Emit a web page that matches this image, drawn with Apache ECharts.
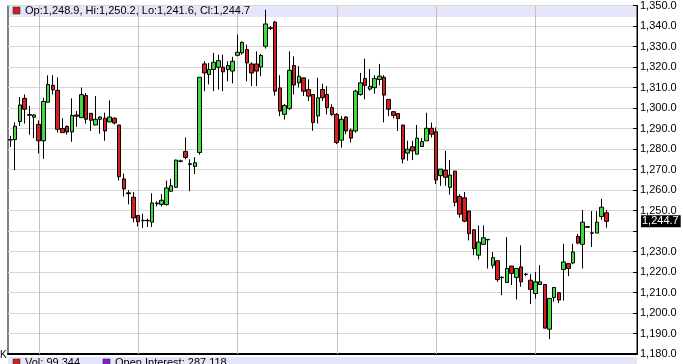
<!DOCTYPE html>
<html><head><meta charset="utf-8">
<script src="https://cdn.jsdelivr.net/npm/echarts/dist/echarts.min.js"></script>
<style>html,body{margin:0;padding:0;background:#fff;overflow:hidden}#c{width:683px;height:364px}</style>
</head><body><div id="c"></div>
<script>
const opens = [
1284.6,1284.6,1293.4,1304.7,1296.8,1295.5,1292.0,1284.0,1302.8,1311.1,
1308.6,1290.0,1291.0,1288.3,1296.6,1295.3,1306.1,1297.4,1291.7,1294.5,
1295.0,1293.2,1295.0,1291.7,1265.4,1258.6,1256.5,1247.6,1245.2,1245.0,
1244.3,1253.6,1253.0,1252.9,1259.4,1261.3,1274.2,1278.8,1272.8,1271.5,
1278.3,1321.5,1316.3,1318.8,1319.9,1319.9,1318.7,1318.0,1325.7,1326.9,
1328.5,1321.5,1321.5,1320.0,1330.1,1339.1,1341.9,1309.8,1296.9,1299.8,
1320.7,1312.3,1314.7,1309.0,1306.6,1296.1,1309.0,1306.6,1300.2,1296.9,
1284.3,1295.6,1289.2,1288.8,1306.6,1314.4,1309.2,1309.9,1313.9,1315.0,
1304.2,1298.2,1297.3,1291.7,1278.0,1281.1,1277.5,1281.2,1284.0,1290.1,
1288.4,1267.0,1269.7,1261.3,1269.2,1256.9,1256.2,1249.8,1240.6,1228.2,
1233.5,1235.9,1223.3,1225.5,1217.4,1214.9,1222.9,1217.3,1222.5,1219.0,
1216.0,1209.5,1213.9,1213.9,1192.1,1207.6,1209.9,1221.2,1224.1,1224.4,
1237.4,1233.5,1242.1,1239.1,1239.0,1247.1,1248.9];
const closes = [
1284.4,1291.1,1301.5,1299.4,1296.5,1296.6,1284.0,1303.2,1311.5,1308.9,
1289.6,1288.0,1288.3,1296.4,1296.0,1306.5,1294.5,1294.0,1294.5,1295.6,
1288.8,1295.6,1292.7,1266.5,1260.5,1258.2,1246.4,1244.5,1245.0,1245.2,
1253.7,1253.3,1255.0,1261.0,1262.1,1274.6,1274.0,1275.9,1272.5,1273.3,
1315.0,1317.1,1318.8,1322.3,1323.1,1317.6,1320.7,1322.8,1327.2,1332.0,
1322.0,1317.1,1318.0,1325.6,1341.0,1338.8,1308.2,1298.5,1301.2,1318.4,
1311.2,1315.5,1308.2,1305.8,1292.9,1305.0,1305.0,1300.2,1296.9,1283.2,
1294.5,1288.8,1285.3,1308.2,1312.3,1311.0,1310.5,1314.4,1315.5,1306.3,
1299.4,1296.4,1294.8,1275.1,1279.9,1279.1,1285.3,1283.6,1290.1,1287.2,
1264.9,1270.2,1266.2,1267.3,1254.0,1248.2,1244.8,1238.7,1231.4,1234.6,
1236.7,1235.7,1227.0,1216.3,1217.2,1221.7,1219.3,1221.7,1215.2,1218.8,
1211.5,1215.2,1215.2,1192.6,1207.1,1212.5,1206.3,1224.9,1221.7,1229.8,
1234.1,1244.3,1241.8,1238.9,1244.3,1251.6,1244.7];
const lows = [
1281.0,1269.7,1291.3,1292.4,1287.0,1285.3,1277.8,1275.2,1302.8,1306.6,
1288.0,1288.0,1287.0,1283.5,1290.8,1295.3,1292.4,1288.8,1291.7,1287.5,
1284.0,1293.2,1292.0,1264.6,1256.8,1253.0,1244.3,1242.2,1241.4,1242.0,
1241.9,1252.0,1252.0,1252.5,1259.0,1261.0,1273.5,1275.0,1259.4,1267.8,
1277.2,1308.2,1311.5,1308.2,1309.0,1308.2,1313.0,1312.0,1325.2,1326.0,
1313.0,1310.7,1310.7,1315.5,1329.0,1338.0,1306.0,1296.0,1294.4,1299.0,
1306.6,1310.0,1305.8,1303.4,1288.9,1292.4,1303.4,1296.9,1296.1,1282.4,
1280.7,1287.2,1283.2,1288.0,1306.0,1304.2,1308.5,1307.0,1311.0,1293.0,
1296.0,1295.0,1288.8,1273.0,1274.3,1274.6,1277.5,1281.2,1284.0,1285.6,
1262.9,1262.0,1262.1,1257.7,1252.0,1246.5,1244.3,1235.4,1228.2,1226.1,
1233.5,1221.7,1221.7,1215.2,1208.7,1214.9,1213.6,1206.6,1212.8,1218.0,
1204.4,1207.0,1213.9,1192.6,1187.2,1205.5,1204.8,1206.0,1218.0,1223.8,
1233.5,1221.7,1241.5,1232.2,1239.0,1245.5,1241.6];
const highs = [
1286.4,1293.0,1305.3,1306.6,1301.0,1297.0,1294.0,1305.0,1315.9,1316.0,
1315.0,1295.0,1291.5,1304.7,1298.5,1310.0,1307.3,1297.4,1305.8,1296.0,
1297.7,1303.7,1295.5,1291.7,1268.0,1260.0,1259.0,1247.6,1248.4,1246.0,
1258.4,1254.5,1258.0,1264.6,1265.5,1274.8,1274.8,1285.6,1275.0,1276.0,
1315.0,1322.8,1322.0,1326.9,1326.0,1326.0,1322.8,1325.0,1335.8,1332.5,
1330.9,1322.3,1327.6,1326.4,1347.9,1340.0,1342.5,1316.0,1302.0,1327.6,
1325.2,1320.4,1314.7,1314.0,1306.6,1314.7,1311.8,1310.7,1301.8,1297.5,
1296.0,1296.1,1290.0,1309.0,1317.1,1324.1,1319.0,1316.0,1321.5,1316.0,
1304.2,1298.5,1297.3,1291.7,1284.0,1284.0,1291.7,1285.3,1297.7,1292.9,
1290.5,1270.2,1279.1,1274.6,1269.4,1258.0,1259.0,1249.8,1240.6,1242.7,
1242.7,1236.0,1229.8,1225.5,1218.0,1237.0,1222.9,1221.7,1233.0,1219.5,
1219.0,1220.0,1223.3,1213.9,1207.1,1212.5,1209.9,1233.8,1224.1,1233.8,
1238.5,1250.3,1242.5,1249.7,1249.7,1255.7,1250.2];
const volume = 99344;
const openInterest = 287118;
const monthStarts = [6, 27, 48, 69, 90, 111];
const slotCount = 133;
const yMin = 1180, yMax = 1350, yStep = 10;

const categories = Array.from({length: slotCount}, (_, i) => String(i));
const candles = opens.map((o, i) => [o, closes[i], lows[i], highs[i]]);
const last = opens.length - 1;
const lastClose = closes[last];

function fmt(v, dec) {
  const s = v.toFixed(dec);
  const parts = s.split('.');
  const ip = parts[0].replace(/\B(?=(\d{3})+(?!\d))/g, ',');
  return parts.length > 1 ? ip + '.' + parts[1] : ip;
}
const headText = 'Op:' + fmt(opens[last],1) + ', Hi:' + fmt(highs[last],1) + ', Lo:' + fmt(lows[last],1) + ', Cl:' + fmt(lastClose,1);
const hiddenTick = Math.round(lastClose / yStep) * yStep;
const FONT = '"Liberation Sans", Arial, sans-serif';

const chart = echarts.init(document.getElementById('c'), null, {renderer: 'canvas'});
chart.setOption({
  animation: false,
  backgroundColor: '#fff',
  grid: {left: 8, right: 46, top: 4, bottom: 10, show: true, borderColor: '#000', borderWidth: 1, backgroundColor: 'transparent'},
  xAxis: {
    type: 'category', data: categories, boundaryGap: true,
    axisLine: {show: true, lineStyle: {color: '#000', width: 2}},
    axisTick: {show: false}, axisLabel: {show: false}, splitLine: {show: false}
  },
  yAxis: {
    type: 'value', position: 'right', min: yMin, max: yMax, interval: yStep,
    axisLine: {show: true, lineStyle: {color: '#000', width: 1}},
    axisTick: {show: true, inside: true, length: 4, lineStyle: {color: '#000'}},
    axisLabel: {color: '#000', fontSize: 11, fontFamily: FONT, margin: 3,
      formatter: v => (v === hiddenTick ? '' : fmt(v, 1))},
    splitLine: {show: true, lineStyle: {color: '#d8d8d8', width: 1}}
  },
  series: [
    {
      type: 'custom', z: 2, silent: true, clip: false,
      data: monthStarts.map(i => [i, yMin]),
      encode: {x: 0, y: 1},
      renderItem: (params, api) => {
        const cs = params.coordSys;
        const x = Math.round(api.coord([api.value(0), api.value(1)])[0]) + 0.5;
        return {type: 'line', shape: {x1: x, y1: cs.y, x2: x, y2: cs.y + cs.height},
          style: {stroke: '#c2c2c2', lineWidth: 1}};
      }
    },
    {
      type: 'candlestick', z: 3, barWidth: 4, data: candles,
      itemStyle: {color: '#3ddc3d', color0: '#dc1e1e', borderColor: '#000', borderColor0: '#000', borderWidth: 1},
      markLine: {
        silent: true, symbol: 'none',
        lineStyle: {color: 'transparent', width: 0},
        label: {show: true, position: 'end', distance: 4, formatter: () => fmt(lastClose, 1),
          backgroundColor: '#000', color: '#fff', fontSize: 11, fontFamily: FONT, padding: [1, 2, 0, 1]},
        data: [{yAxis: lastClose}]
      }
    }
  ],
  graphic: {elements: [
    {type: 'rect', z: 0, silent: true, shape: {x: 9, y: 5, width: 627, height: 12}, style: {fill: '#e6e6fa'}},
    {type: 'rect', z: 10, silent: true, shape: {x: 13, y: 7, width: 7, height: 7}, style: {fill: '#d41c1c', stroke: '#333', lineWidth: 0.6}},
    {type: 'text', z: 10, silent: true, x: 25, y: 11, style: {text: headText, fill: '#000', font: '11px ' + FONT, textVerticalAlign: 'middle'}},
    {type: 'rect', z: 10, silent: true, shape: {x: 8, y: 357, width: 629, height: 7}, style: {fill: '#e6e6fa'}},
    {type: 'rect', z: 11, silent: true, shape: {x: 13, y: 359, width: 7, height: 7}, style: {fill: '#d41c1c', stroke: '#333', lineWidth: 0.6}},
    {type: 'text', z: 11, silent: true, x: 25, y: 357, style: {text: 'Vol: ' + fmt(volume, 0), fill: '#000', font: '11px ' + FONT, textVerticalAlign: 'top'}},
    {type: 'rect', z: 11, silent: true, shape: {x: 103, y: 359, width: 7, height: 7}, style: {fill: '#8a1ad4', stroke: '#333', lineWidth: 0.6}},
    {type: 'text', z: 11, silent: true, x: 115, y: 357, style: {text: 'Open Interest: ' + fmt(openInterest, 0), fill: '#000', font: '11px ' + FONT, textVerticalAlign: 'top'}},
    {type: 'text', z: 11, silent: true, x: 0, y: 350, style: {text: 'K', fill: '#000', font: '10px ' + FONT, textVerticalAlign: 'top'}}
  ]}
});
</script></body></html>
